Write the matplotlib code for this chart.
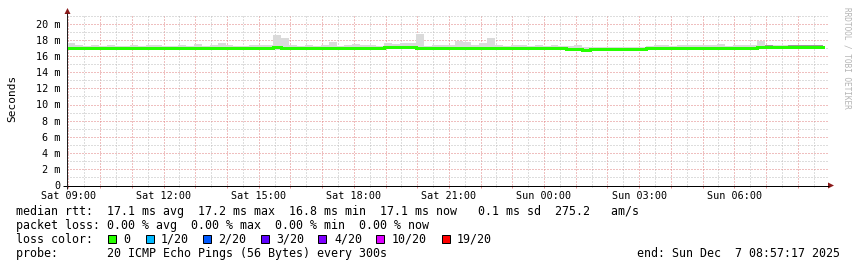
import matplotlib
matplotlib.use("Agg")
import matplotlib.pyplot as plt
from matplotlib.ticker import MultipleLocator, FuncFormatter
from matplotlib.patches import Rectangle, Polygon
import numpy as np

# ---------------- data (ms), 15-minute bins starting Sat 08:57 ----------------
start_hour = 8.9547          # hours after Sat 00:00
bin_hours = 0.25
data_end_hour = start_hour + 23.85

median_ms = [
    17.07, 17.06, 17.07, 17.08, 17.07, 17.07, 17.06, 17.07, 17.08, 17.07, 17.07, 17.08, 17.07, 17.06, 17.07, 17.07,
    17.08, 17.07, 17.07, 17.06, 17.07, 17.07, 17.08, 17.07, 17.07, 17.08, 17.09, 17.08, 17.07, 17.07, 17.06, 17.07,
    17.07, 17.08, 17.07, 17.07, 17.08, 17.07, 17.07, 17.08, 17.10, 17.09, 17.10, 17.09, 17.08, 17.07, 17.07, 17.08,
    17.07, 17.08, 17.08, 17.07, 17.07, 17.08, 17.07, 17.07, 17.06, 17.07, 17.07, 17.07, 17.06, 17.06, 17.05, 16.92,
    16.84, 16.83, 16.84, 16.84, 16.84, 16.85, 16.84, 16.84, 16.85, 16.98, 17.06, 17.07, 17.07, 17.07, 17.08, 17.07,
    17.07, 17.07, 17.08, 17.07, 17.07, 17.08, 17.08, 17.10, 17.10, 17.09, 17.10, 17.10, 17.10, 17.09, 17.10, 17.10,
]

smoke_hi = [
    17.60, 17.45, 17.30, 17.40, 17.30, 17.35, 17.30, 17.30, 17.40, 17.30, 17.45, 17.40, 17.30, 17.30, 17.35, 17.30,
    17.50, 17.30, 17.35, 17.65, 17.35, 17.30, 17.30, 17.40, 17.45, 17.40, 18.60, 18.25, 17.45, 17.30, 17.35, 17.30,
    17.35, 17.75, 17.30, 17.45, 17.50, 17.35, 17.35, 17.30, 17.60, 17.55, 17.60, 17.65, 18.80, 17.30, 17.40, 17.45,
    17.40, 17.85, 17.80, 17.35, 17.70, 18.25, 17.35, 17.30, 17.40, 17.35, 17.30, 17.45, 17.30, 17.35, 17.30, 17.25,
    17.40, 17.20, 17.10, 17.10, 17.15, 17.10, 17.10, 17.15, 17.20, 17.30, 17.35, 17.40, 17.30, 17.45, 17.35, 17.40,
    17.45, 17.35, 17.55, 17.30, 17.40, 17.35, 17.40, 17.85, 17.45, 17.35, 17.40, 17.45, 17.40, 17.45, 17.45, 17.40,
]

smoke_lo = [
    16.80, 16.85, 16.80, 16.95, 16.95, 16.95, 16.90, 16.95, 16.95, 16.85, 16.95, 16.90, 16.95, 16.95, 16.85, 16.95,
    16.90, 16.95, 16.95, 16.90, 16.95, 16.95, 16.95, 16.90, 16.95, 16.90, 16.80, 16.90, 16.95, 16.95, 16.90, 16.95,
    16.85, 16.95, 16.90, 16.95, 16.95, 16.80, 16.85, 16.95, 16.90, 16.85, 16.90, 16.95, 16.90, 16.95, 16.95, 16.90,
    16.95, 16.90, 16.85, 16.95, 16.90, 16.95, 16.90, 16.95, 16.85, 16.95, 16.90, 16.95, 16.90, 16.95, 16.95, 16.75,
    16.75, 16.75, 16.75, 16.75, 16.75, 16.75, 16.75, 16.75, 16.75, 16.90, 16.85, 16.95, 16.85, 16.95, 16.90, 16.85,
    16.95, 16.90, 16.85, 16.95, 16.90, 16.85, 16.95, 16.90, 16.85, 16.85, 16.90, 16.85, 16.90, 16.85, 16.90, 16.90,
]

# darker smoke patches: bin -> (low, high)
dark_smoke = {
    6: (16.90, 17.05), 14: (16.90, 17.05), 19: (16.90, 17.05), 40: (17.00, 17.20), 42: (17.00, 17.20),
    52: (16.95, 17.05), 58: (16.90, 17.05), 79: (16.90, 17.05), 81: (16.95, 17.05),
    88: (17.05, 17.35), 89: (17.05, 17.30), 90: (17.10, 17.30), 91: (17.05, 17.35),
    92: (17.05, 17.35), 93: (17.10, 17.35), 94: (17.10, 17.40), 95: (17.10, 17.40),
}

y_ticks = [0, 2, 4, 6, 8, 10, 12, 14, 16, 18, 20]
x_label_hours = [9, 12, 15, 18, 21, 24, 27, 30]

loss_labels = ["0", "1/20", "2/20", "3/20", "4/20", "10/20", "19/20"]
loss_colors = ["#26ff00", "#00b8ff", "#0059ff", "#5e00ff", "#7e00ff", "#dd00ff", "#ff0000"]

legend_rtt = "median rtt:  17.1 ms avg  17.2 ms max  16.8 ms min  17.1 ms now   0.1 ms sd  275.2   am/s"
legend_loss = "packet loss: 0.00 % avg  0.00 % max  0.00 % min  0.00 % now"
legend_probe = "probe:       20 ICMP Echo Pings (56 Bytes) every 300s"
legend_end = "end: Sun Dec  7 08:57:17 2025"

# ---------------- figure ----------------
W, H = 857, 267
fig = plt.figure(figsize=(W / 100, H / 100), dpi=100)
fig.patch.set_facecolor("white")
PX = 72 / 100  # points per pixel

ax = fig.add_axes([67 / W, 1 - 185 / H, 761 / W, 170 / H])
ax.set_xlim(start_hour, start_hour + 24)
ax.set_ylim(0, 170 / 8.05)
ax.set_axisbelow(True)
for s in ax.spines.values():
    s.set_visible(False)

n = len(median_ms)
x = start_hour + np.arange(n) * bin_hours
x_edge = np.append(x, data_end_hour)


def ext(v):
    v = np.asarray(v, dtype=float)
    return np.append(v, v[-1])


ax.fill_between(x_edge, ext(smoke_lo), ext(smoke_hi), step="post", color="#dadada", lw=0, zorder=2)
for b, (lo, hi) in dark_smoke.items():
    x0 = x_edge[b]
    x1 = x_edge[b + 1]
    ax.fill_between([x0, x1], [lo, lo], [hi, hi], color="#9a9a9a", lw=0, zorder=3)

ax.step(x_edge, ext(median_ms), where="post", color=loss_colors[0], lw=3 * PX, zorder=4,
        solid_joinstyle="miter")

# grid
ax.xaxis.set_major_locator(MultipleLocator(1))
ax.xaxis.set_minor_locator(MultipleLocator(0.5))
ax.yaxis.set_major_locator(MultipleLocator(2))
ax.yaxis.set_minor_locator(MultipleLocator(1))
dots = (0, (1, 2))
ax.grid(which="minor", color="#bdbdbd", lw=PX, ls=dots)
ax.grid(which="major", color="#e08080", lw=PX, ls=dots)


def xfmt(v, pos):
    h = int(round(v))
    if abs(v - h) > 1e-6 or h not in x_label_hours:
        return ""
    day = "Sat" if h < 24 else "Sun"
    return f"{day} {h % 24:02d}:00"


def yfmt(v, pos):
    iv = int(round(v))
    if iv not in y_ticks:
        return ""
    return "0" if iv == 0 else f"{iv} m"


ax.xaxis.set_major_formatter(FuncFormatter(xfmt))
ax.yaxis.set_major_formatter(FuncFormatter(yfmt))
mono = "DejaVu Sans Mono"
ax.tick_params(axis="x", which="major", direction="out", length=3 * PX, width=PX, color="#e89090",
               pad=2.0, labelsize=7.3, labelcolor="black")
ax.tick_params(axis="x", which="minor", direction="out", length=2 * PX, width=PX, color="#c4c4c4")
ax.tick_params(axis="y", which="both", length=0, pad=5.0, labelsize=7.3)
for lab in ax.get_xticklabels() + ax.get_yticklabels():
    lab.set_family(mono)

# ---------------- overlay (pixel coordinates) ----------------
ov = fig.add_axes([0, 0, 1, 1], zorder=5)
ov.set_xlim(0, W)
ov.set_ylim(H, 0)
ov.axis("off")

ov.plot([63, 829], [185.5, 185.5], color="black", lw=PX, solid_capstyle="butt")
ov.plot([67.5, 67.5], [189, 13], color="#202020", lw=PX, solid_capstyle="butt")
ov.add_patch(Polygon([[828, 182.5], [834, 185.5], [828, 188.5]], closed=True, color="#8b1a1a", lw=0))
ov.add_patch(Polygon([[64.5, 14], [67.5, 8], [70.5, 14]], closed=True, color="#8b1a1a", lw=0))

ov.text(12, 98, "Seconds", rotation=90, ha="center", va="center", fontsize=8.0, family=mono)
ov.text(847, 58, "RRDTOOL / TOBI OETIKER", rotation=-90, ha="center", va="center",
        fontsize=5.6, family=mono, color="#b4b4b4")

fs = 8.4
ov.text(16, 211.5, legend_rtt, ha="left", va="center", fontsize=fs, family=mono)
ov.text(16, 225.5, legend_loss, ha="left", va="center", fontsize=fs, family=mono)
ov.text(16, 239.5, "loss color:", ha="left", va="center", fontsize=fs, family=mono)
sq_x = [108, 146, 203, 261, 318, 376, 442]
lab_x = [123, 161, 218, 276, 334, 392, 457]
for sx, lx, lab, col in zip(sq_x, lab_x, loss_labels, loss_colors):
    ov.add_patch(Rectangle((sx, 235), 8, 8, facecolor=col, edgecolor="black", lw=PX))
    ov.text(lx, 239.5, lab, ha="left", va="center", fontsize=fs, family=mono)
ov.text(16, 253.5, legend_probe, ha="left", va="center", fontsize=fs, family=mono)
ov.text(840, 253.5, legend_end, ha="right", va="center", fontsize=fs, family=mono)

fig.savefig("out.png", dpi=100)
